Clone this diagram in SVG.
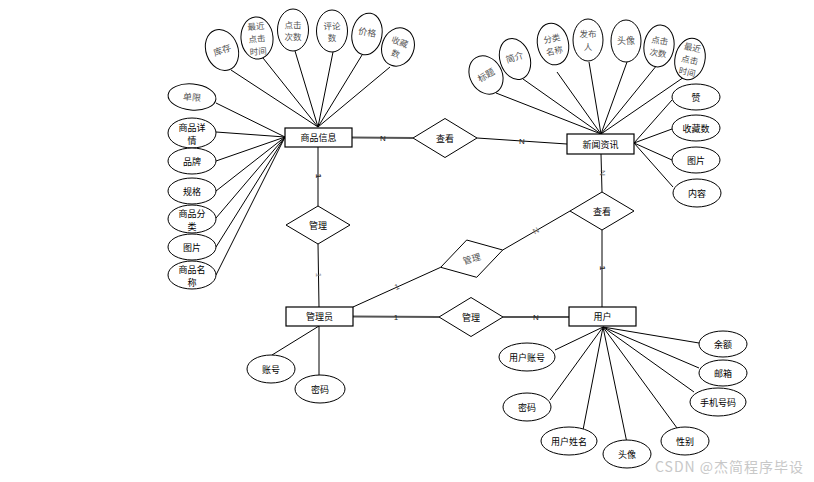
<svg xmlns="http://www.w3.org/2000/svg" width="814" height="482" viewBox="0 0 814 482">
<style>
.bg{fill:#fff}
.ent{fill:#fff;stroke:#000;stroke-width:1.2}
.rel{fill:#fff;stroke:#000;stroke-width:1}
.att{fill:#fff;stroke:#000;stroke-width:1}
.t{font-family:"Noto Sans CJK SC","Noto Sans",sans-serif;font-size:9px;fill:#000;text-anchor:middle;dominant-baseline:central}
.tg{font-family:"Noto Sans CJK SC","Noto Sans",sans-serif;font-size:8.5px;fill:#555;text-anchor:middle;dominant-baseline:central}
.c line,.c polyline{stroke:#000;stroke-width:1;fill:none}
.c .thick{stroke:#555;stroke-width:2}
.lb{font-family:"Liberation Sans",Arial,sans-serif;font-size:8px;fill:#222;text-anchor:middle;dominant-baseline:central}
.wm{font-family:"Noto Sans CJK SC","Noto Sans",sans-serif;font-size:14px;fill:#c8c8c8;letter-spacing:1px}
</style>
<rect class="bg" x="0" y="0" width="814" height="482"/>

<g id="connectors" class="c">
  <!-- 商品信息 top attributes -->
  <line x1="318" y1="127" x2="231" y2="70"/>
  <line x1="318" y1="127" x2="263" y2="58"/>
  <line x1="318" y1="127" x2="295" y2="51"/>
  <line x1="318" y1="127" x2="333" y2="52"/>
  <line x1="318" y1="127" x2="362" y2="55"/>
  <line x1="318" y1="127" x2="390" y2="67"/>
  <!-- 商品信息 left attributes -->
  <line x1="285" y1="137" x2="216" y2="103"/>
  <line x1="285" y1="137" x2="216" y2="132"/>
  <line x1="285" y1="137" x2="216" y2="161"/>
  <line x1="285" y1="137" x2="216" y2="191"/>
  <line x1="285" y1="137" x2="216" y2="218"/>
  <line x1="285" y1="137" x2="216" y2="247"/>
  <line x1="285" y1="137" x2="216" y2="275"/>
  <!-- 新闻资讯 top attributes -->
  <line x1="601" y1="134" x2="496" y2="93"/>
  <line x1="601" y1="134" x2="523" y2="79"/>
  <line x1="601" y1="134" x2="557" y2="72"/>
  <line x1="601" y1="134" x2="589" y2="62"/>
  <line x1="601" y1="134" x2="627" y2="62"/>
  <line x1="601" y1="134" x2="657" y2="65"/>
  <line x1="601" y1="134" x2="687" y2="75"/>
  <!-- 新闻资讯 right attributes -->
  <line x1="634" y1="143" x2="672" y2="100"/>
  <line x1="634" y1="143" x2="672" y2="129"/>
  <line x1="634" y1="143" x2="672" y2="160"/>
  <line x1="634" y1="143" x2="673" y2="187"/>
  <!-- 用户 attributes -->
  <line x1="603" y1="327" x2="555" y2="350"/>
  <line x1="603" y1="327" x2="550" y2="400"/>
  <line x1="603" y1="327" x2="583" y2="430"/>
  <line x1="603" y1="327" x2="627" y2="443"/>
  <line x1="603" y1="327" x2="677" y2="428"/>
  <line x1="603" y1="327" x2="699" y2="343"/>
  <line x1="603" y1="327" x2="699" y2="368"/>
  <line x1="603" y1="327" x2="694" y2="392"/>
  <!-- 管理员 attributes -->
  <line x1="319" y1="326" x2="272" y2="355"/>
  <line x1="319" y1="326" x2="319" y2="375"/>
  <!-- relationships -->
  <line class="thick" x1="352" y1="137.5" x2="413" y2="138"/>
  <line x1="477" y1="138" x2="567" y2="144"/>
  <line class="thick" x1="318" y1="147" x2="318" y2="206" style="stroke-width:1.5"/>
  <line x1="318" y1="244" x2="319" y2="307"/>
  <line x1="601" y1="154" x2="602" y2="192"/>
  <line x1="602" y1="230" x2="602" y2="307"/>
  <line x1="502.7" y1="250" x2="570" y2="211"/>
  <line x1="440.7" y1="267.3" x2="353" y2="307"/>
  <line class="thick" x1="353" y1="316.5" x2="439" y2="317"/>
  <line class="thick" x1="503" y1="317" x2="569" y2="317"/>
  <!-- labels -->
  <text class="lb" x="383" y="138">N</text>
  <text class="lb" x="522" y="141" fill="#666">N</text>
  <text class="lb" x="318" y="176" transform="rotate(90 318 176)" style="font-weight:bold">1</text>
  <text class="lb" x="318" y="275" transform="rotate(90 318 275)" style="fill:#888">1</text>
  <text class="lb" x="602" y="173" transform="rotate(90 602 173)" style="fill:#666">N</text>
  <text class="lb" x="602" y="268" transform="rotate(90 602 268)" style="font-weight:bold">1</text>
  <text class="lb" x="536" y="231" transform="rotate(-30 536 231)" style="fill:#777">N</text>
  <text class="lb" x="397" y="287" transform="rotate(-25 397 287)" style="fill:#555">1</text>
  <text class="lb" x="396" y="317">1</text>
  <text class="lb" x="536" y="317">N</text>
</g>

<!-- entities -->
<g id="shangpin"><rect class="ent" x="285" y="128" width="67" height="19"/><text class="t" x="318.5" y="137.5">商品信息</text></g>
<g id="xinwen"><rect class="ent" x="567" y="134" width="67" height="20"/><text class="t" x="600.5" y="144">新闻资讯</text></g>
<g id="guanliyuan"><rect class="ent" x="286" y="307" width="67" height="19"/><text class="t" x="319.5" y="316.5">管理员</text></g>
<g id="yonghu"><rect class="ent" x="569" y="307" width="67" height="19"/><text class="t" x="602.5" y="316.5">用户</text></g>

<!-- relationships -->
<g id="chakan1"><polygon class="rel" points="413,138 445,118.5 477,138 445,157.5"/><text class="t" x="445" y="138">查看</text></g>
<g id="guanli1"><polygon class="rel" points="286,225 318,206 350,225 318,244"/><text class="t" x="318" y="225">管理</text></g>
<g id="chakan2"><polygon class="rel" points="570,211 602,192 634,211 602,230"/><text class="t" x="602" y="211">查看</text></g>
<g id="guanli2"><polygon class="rel" points="466.7,240 502.7,250 476.7,277.3 440.7,267.3"/><text class="tg" x="471.7" y="258.7" transform="rotate(-16 471.7 258.7)" style="font-size:9px">管理</text></g>
<g id="guanli3"><polygon class="rel" points="439,317 471,297.5 503,317 471,336.5"/><text class="t" x="471" y="317">管理</text></g>

<!-- 商品信息 top attributes -->
<g id="sp-kucun" transform="rotate(-20 222 50)"><ellipse class="att" cx="222" cy="50" rx="16" ry="21"/><text class="tg" x="222" y="50" style="font-size:9px">库存</text></g>
<g id="sp-zuijin" transform="rotate(-5 257 38)"><ellipse class="att" cx="257" cy="38" rx="16" ry="21"/><text class="tg" x="257" y="38"><tspan x="257" dy="-12.5">最近</tspan><tspan x="257" dy="12.5">点击</tspan><tspan x="257" dy="12.5">时间</tspan></text></g>
<g id="sp-dianji"><ellipse class="att" cx="293" cy="30" rx="15.5" ry="21"/><text class="tg" x="293" y="30"><tspan x="293" dy="-6.25">点击</tspan><tspan x="293" dy="12.5">次数</tspan></text></g>
<g id="sp-pinglun"><ellipse class="att" cx="332" cy="31" rx="15.5" ry="21"/><text class="tg" x="332" y="31"><tspan x="332" dy="-6.25">评论</tspan><tspan x="332" dy="12.5">数</tspan></text></g>
<g id="sp-jiage" transform="rotate(10 367 34)"><ellipse class="att" cx="367" cy="34" rx="15" ry="21"/><text class="tg" x="367" y="32" style="font-size:9px">价格</text></g>
<g id="sp-shoucang" transform="rotate(20 398 47)"><ellipse class="att" cx="398" cy="47" rx="16" ry="19.5"/><text class="tg" x="398" y="47"><tspan x="398" dy="-6.25">收藏</tspan><tspan x="398" dy="12.5">数</tspan></text></g>

<!-- 商品信息 left attributes -->
<g id="sp-danxian" transform="rotate(5 192 97)"><ellipse class="att" cx="192" cy="97" rx="24" ry="13"/><text class="tg" x="192" y="97" style="font-size:9px">单限</text></g>
<g id="sp-xiangqing"><ellipse class="att" cx="192" cy="133" rx="24" ry="15"/><text class="t" x="192" y="133"><tspan x="192" dy="-6.5">商品详</tspan><tspan x="192" dy="13">情</tspan></text></g>
<g id="sp-pinpai"><ellipse class="att" cx="192" cy="161" rx="24" ry="13"/><text class="t" x="192" y="161">品牌</text></g>
<g id="sp-guige"><ellipse class="att" cx="192" cy="191" rx="24" ry="13"/><text class="t" x="192" y="191">规格</text></g>
<g id="sp-fenlei"><ellipse class="att" cx="192" cy="219" rx="24" ry="14"/><text class="t" x="192" y="219"><tspan x="192" dy="-6.5">商品分</tspan><tspan x="192" dy="13">类</tspan></text></g>
<g id="sp-tupian"><ellipse class="att" cx="192" cy="247" rx="24" ry="13"/><text class="t" x="192" y="247">图片</text></g>
<g id="sp-mingcheng"><ellipse class="att" cx="192" cy="275" rx="24" ry="14"/><text class="t" x="192" y="275"><tspan x="192" dy="-6.5">商品名</tspan><tspan x="192" dy="13">称</tspan></text></g>

<!-- 新闻资讯 top attributes -->
<g id="xw-biaoti" transform="rotate(-30 486 75)"><ellipse class="att" cx="486" cy="75" rx="16" ry="20"/><text class="tg" x="486" y="75" style="font-size:9px">标题</text></g>
<g id="xw-jianjie" transform="rotate(-18 515 59)"><ellipse class="att" cx="515" cy="59" rx="15" ry="21"/><text class="tg" x="515" y="57" style="font-size:9px">简介</text></g>
<g id="xw-fenlei" transform="rotate(-12 553 44)"><ellipse class="att" cx="553" cy="44" rx="15.5" ry="21"/><text class="tg" x="553" y="44"><tspan x="553" dy="-6.25">分类</tspan><tspan x="553" dy="12.5">名称</tspan></text></g>
<g id="xw-fabuRen"><ellipse class="att" cx="588" cy="40" rx="15" ry="21"/><text class="tg" x="588" y="40"><tspan x="588" dy="-7">发布</tspan><tspan x="588" dy="12.5">人</tspan></text></g>
<g id="xw-touxiang"><ellipse class="att" cx="626" cy="41" rx="15" ry="21"/><text class="tg" x="626" y="40" style="font-size:9px">头像</text></g>
<g id="xw-dianji" transform="rotate(8 659 46)"><ellipse class="att" cx="659" cy="46" rx="15" ry="21"/><text class="tg" x="659" y="46"><tspan x="659" dy="-6.25">点击</tspan><tspan x="659" dy="12.5">次数</tspan></text></g>
<g id="xw-zuijin" transform="rotate(12 690 59)"><ellipse class="att" cx="690" cy="59" rx="15" ry="21"/><text class="tg" x="690" y="59"><tspan x="690" dy="-12.5">最近</tspan><tspan x="690" dy="12.5">点击</tspan><tspan x="690" dy="12.5">时间</tspan></text></g>

<!-- 新闻资讯 right attributes -->
<g id="xw-zan"><ellipse class="att" cx="696" cy="97" rx="24" ry="13"/><text class="t" x="696" y="97">赞</text></g>
<g id="xw-shoucang"><ellipse class="att" cx="696" cy="128" rx="24" ry="13"/><text class="t" x="696" y="128">收藏数</text></g>
<g id="xw-tupian"><ellipse class="att" cx="696" cy="160" rx="24" ry="13"/><text class="t" x="696" y="160">图片</text></g>
<g id="xw-neirong"><ellipse class="att" cx="697" cy="193" rx="24" ry="14"/><text class="t" x="697" y="193">内容</text></g>

<!-- 管理员 attributes -->
<g id="gly-zhanghao"><ellipse class="att" cx="271" cy="369" rx="24" ry="14"/><text class="t" x="271" y="369">账号</text></g>
<g id="gly-mima"><ellipse class="att" cx="320" cy="389" rx="25" ry="14"/><text class="t" x="320" y="389">密码</text></g>

<!-- 用户 attributes -->
<g id="yh-zhanghao"><ellipse class="att" cx="527" cy="357" rx="28" ry="14"/><text class="t" x="527" y="357">用户账号</text></g>
<g id="yh-mima"><ellipse class="att" cx="527" cy="407" rx="24" ry="14"/><text class="t" x="527" y="407">密码</text></g>
<g id="yh-xingming"><ellipse class="att" cx="569" cy="441" rx="28" ry="14"/><text class="t" x="569" y="441">用户姓名</text></g>
<g id="yh-touxiang"><ellipse class="att" cx="627" cy="454" rx="24" ry="14"/><text class="t" x="627" y="454">头像</text></g>
<g id="yh-xingbie"><ellipse class="att" cx="685" cy="441" rx="24" ry="14"/><text class="t" x="685" y="441">性别</text></g>
<g id="yh-yue"><ellipse class="att" cx="723" cy="344" rx="24" ry="13"/><text class="t" x="723" y="344">余额</text></g>
<g id="yh-youxiang"><ellipse class="att" cx="723" cy="373" rx="24" ry="13"/><text class="t" x="723" y="373">邮箱</text></g>
<g id="yh-shouji"><ellipse class="att" cx="718" cy="402" rx="28" ry="14"/><text class="t" x="718" y="402">手机号码</text></g>

<text class="wm" x="655" y="472">CSDN @杰简程序毕设</text>
</svg>
